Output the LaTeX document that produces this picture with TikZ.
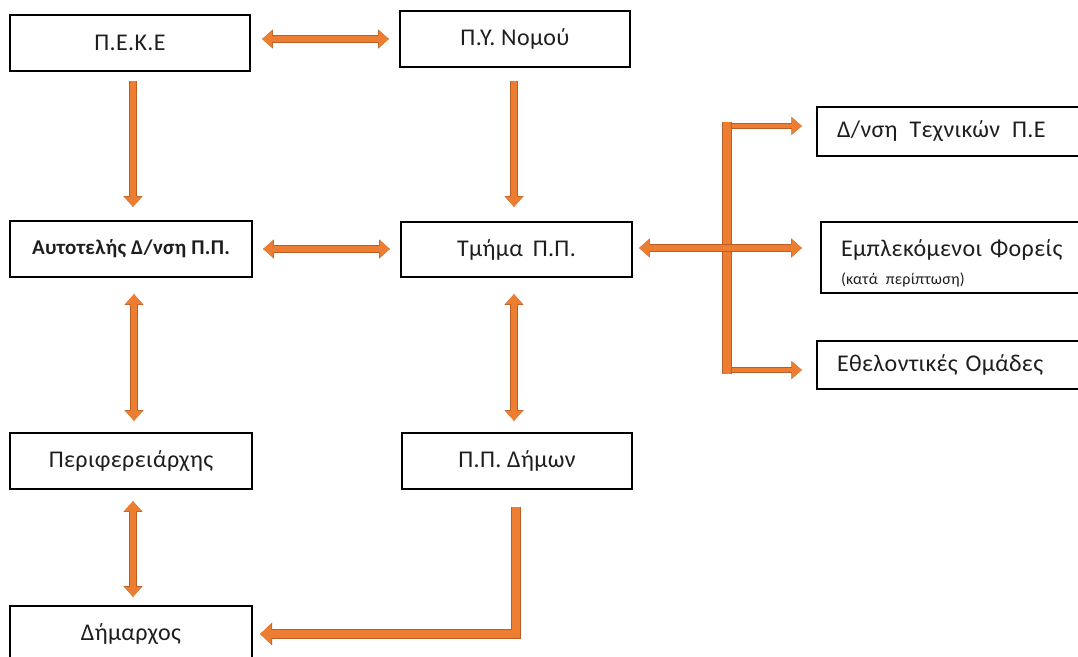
\documentclass[tikz,border=0pt]{standalone}
\usepackage{fontspec}
\setmainfont{Carlito}[LetterSpace=1.5]
\usetikzlibrary{arrows.meta}
\definecolor{arrowfill}{HTML}{ED7D31}
\definecolor{arrowedge}{HTML}{B95E24}
\definecolor{txt}{HTML}{1E1E1E}
\tikzset{
  box/.style={draw=black, line width=2.2pt, rectangle, inner sep=0pt, text=txt,
    font=\fontsize{24}{28}\selectfont},
  sidebox/.style={box, align=left, inner xsep=20pt},
  tipdef/.style={>={Triangle[length=8pt 0.4, width=10pt 1.2]}},
  barrow/.style={tipdef, draw=arrowfill, line width=#1, line join=miter,
    preaction={draw=arrowedge, line width=#1+1.8pt}},
  thinarrow/.style={barrow=5.4pt},
  thickarrow/.style={barrow=8.4pt},
  branch/.style={barrow=4.4pt},
}
\begin{document}
\begin{tikzpicture}[x=1pt, y=-1pt]
\useasboundingbox (0,0) rectangle (1078,656);
% boxes
\node[box, minimum width=240pt, minimum height=56pt] (peke) at (130,43) {Π.Ε.Κ.Ε};
\node[box, minimum width=230pt, minimum height=56pt] (py) at (515,39) {Π.Υ. Νομού};
\node[box, minimum width=242pt, minimum height=56pt,
  font=\bfseries\fontsize{21}{25}\selectfont] (auto) at (131,249) {Αυτοτελής Δ/νση Π.Π.};
\node[box, minimum width=231pt, minimum height=55pt] (tmima) at (516.5,249.5) {Τμήμα\, Π.Π.};
\node[box, minimum width=242pt, minimum height=56pt] (perif) at (131,461) {Περιφερειάρχης};
\node[box, minimum width=230pt, minimum height=56pt] (ppd) at (517,461) {Π.Π. Δήμων};
\node[box, minimum width=242pt, minimum height=56pt] (dim) at (131,634) {Δήμαρχος};
\node[sidebox, text width=235pt, minimum height=49pt] (dnsi) at (954.5,131.5) {Δ/νση\, Τεχνικών\, Π.Ε};
\node[sidebox, text width=231pt, minimum height=71pt, text depth=18pt] (emp) at (956.5,257.5)
  {Εμπλεκόμενοι Φορείς\\[0pt]{\fontsize{16}{19}\selectfont (κατά περίπτωση)}};
\node[sidebox, text width=235pt, minimum height=48pt] (ethel) at (954.5,365) {Εθελοντικές Ομάδες};
% coordinates of the bracket
\coordinate (bartop) at (727,122);
\coordinate (barbot) at (727,374);
\coordinate (brtop) at (727,126);
\coordinate (brbot) at (727,370);
% arrows
\draw[thinarrow, <->, shorten <=11pt, shorten >=10pt] (peke.east |- py.west) -- (py.west);
\draw[thinarrow, ->, shorten <=9pt, shorten >=13pt] ([xshift=3pt]peke.south) -- ([xshift=2pt]auto.north);
\draw[thinarrow, ->, shorten <=13pt, shorten >=14pt] ([xshift=-1pt]py.south) -- ([xshift=-2.5pt]tmima.north);
\draw[thinarrow, <->, shorten <=10pt, shorten >=10pt] (auto.east) -- (auto.east -| tmima.west);
\draw[thinarrow, <->, shorten <=16pt, shorten >=11pt] ([xshift=3pt]auto.south) -- ([xshift=3pt]perif.north);
\draw[thinarrow, <->, shorten <=16pt, shorten >=11pt] ([xshift=-2.5pt]tmima.south) -- ([xshift=-3pt]ppd.north);
\draw[thinarrow, <->, shorten <=11pt, shorten >=8pt] ([xshift=2pt]perif.south) -- ([xshift=2pt]dim.north);
\draw[thickarrow, ->, shorten <=17pt, shorten >=7pt] ([xshift=-1pt]ppd.south) -- ([xshift=-1pt]ppd.south |- dim.east) -- (dim.east);
% bracket
\draw[branch, ->, shorten >=14pt] (brtop) -- (brtop -| dnsi.west);
\draw[branch, ->, shorten >=14pt] (brbot) -- (brbot -| ethel.west);
\draw[thickarrow] (bartop) -- (barbot);
\draw[thinarrow, line width=6.4pt, <->, shorten <=6pt, shorten >=18pt] ([yshift=1.5pt]tmima.east) -- ([yshift=1.5pt]tmima.east -| emp.west);
\end{tikzpicture}
\end{document}
